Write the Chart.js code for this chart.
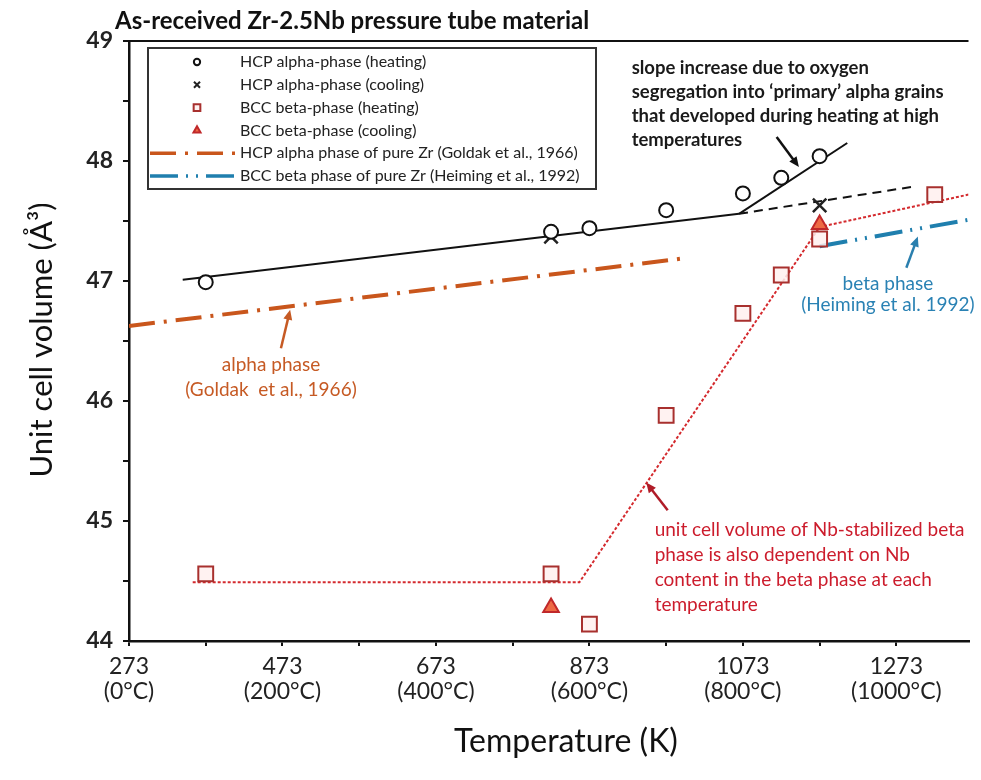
<!DOCTYPE html>
<html lang="en">
<head>
<meta charset="UTF-8">
<title>Unit cell volume vs temperature, Zr-2.5Nb</title>
<script src="https://cdn.jsdelivr.net/npm/chart.js"></script>
<style>
  html, body { margin: 0; padding: 0; background: #fff; }
  #wrap { position: relative; width: 981px; height: 780px; }
</style>
</head>
<body>
<div id="wrap"><canvas id="volumeChart" width="981" height="780"></canvas></div>
<script>
// measured points (temperature in K, unit cell volume in A^3)
const alphaHeatT = [373, 823, 873, 973, 1073, 1123, 1173];
const alphaHeatV = [46.99, 47.41, 47.44, 47.59, 47.73, 47.86, 48.04];
const alphaCoolT = [823, 1173];
const alphaCoolV = [47.37, 47.63];
const betaHeatT = [373, 823, 873, 973, 1073, 1123, 1173, 1323];
const betaHeatV = [44.56, 44.56, 44.14, 45.88, 46.73, 47.05, 47.35, 47.72];
const betaCoolT = [823, 1173];
const betaCoolV = [44.28, 47.47];

// trend lines through the data
const alphaFitT = [343, 1068];
const alphaFitV = [47.01, 47.56];
const alphaSteepT = [1068, 1209];
const alphaSteepV = [47.56, 48.15];
const alphaExtT = [1068, 1299];
const alphaExtV = [47.56, 47.79];
const betaFitT = [356, 860, 1173, 1367];
const betaFitV = [44.49, 44.49, 47.45, 47.72];

// pure Zr reference curves
const goldakT = [273, 998];
const goldakV = [46.625, 47.19];
const heimingT = [1173, 1367];
const heimingV = [47.29, 47.51];

// axis ticks
const xTicks = [273, 373, 473, 573, 673, 773, 873, 973, 1073, 1173, 1273];
const xMajor = [273, 473, 673, 873, 1073, 1273];
const xCelsius = ['(0°C)', '(200°C)', '(400°C)', '(600°C)', '(800°C)', '(1000°C)'];

const FONT = 'Lato, "Open Sans", "DejaVu Sans", sans-serif';
Chart.defaults.font.family = FONT;

const pts = (xs, ys) => xs.map((x, i) => ({ x: x, y: ys[i] }));

const datasets = [
  { label: 'HCP alpha-phase (heating)', data: pts(alphaHeatT, alphaHeatV),
    pointStyle: 'circle', pointRadius: 7, borderColor: '#111', backgroundColor: '#fff', borderWidth: 2 },
  { label: 'HCP alpha-phase (cooling)', data: pts(alphaCoolT, alphaCoolV),
    pointStyle: 'crossRot', pointRadius: 9.5, borderColor: '#222', backgroundColor: '#222', borderWidth: 2.5 },
  { label: 'BCC beta-phase (cooling)', data: pts(betaCoolT, betaCoolV),
    pointStyle: 'triangle', pointRadius: 9, borderColor: '#c0282a', backgroundColor: '#ee6a44', borderWidth: 2 },
  { label: 'BCC beta-phase (heating)', data: pts(betaHeatT, betaHeatV),
    pointStyle: 'rect', pointRadius: 10.5, borderColor: '#a8302e', backgroundColor: 'rgba(255,240,238,0.85)', borderWidth: 2 },
  { label: 'alpha fit', data: pts(alphaFitT, alphaFitV), showLine: true, pointRadius: 0,
    borderColor: '#111', borderWidth: 2 },
  { label: 'alpha fit high T', data: pts(alphaSteepT, alphaSteepV), showLine: true, pointRadius: 0,
    borderColor: '#111', borderWidth: 2 },
  { label: 'alpha fit extended', data: pts(alphaExtT, alphaExtV), showLine: true, pointRadius: 0,
    borderColor: '#111', borderWidth: 2, borderDash: [9, 6] },
  { label: 'beta fit', data: pts(betaFitT, betaFitV), showLine: true, pointRadius: 0,
    borderColor: '#d42a2e', borderWidth: 2, borderDash: [3, 2] },
  { label: 'HCP alpha phase of pure Zr (Goldak et al., 1966)', data: pts(goldakT, goldakV), showLine: true, pointRadius: 0,
    borderColor: '#c9561c', borderWidth: 4, borderDash: [26, 9, 3, 9] },
  { label: 'BCC beta phase of pure Zr (Heiming et al., 1992)', data: pts(heimingT, heimingV), showLine: true, pointRadius: 0,
    borderColor: '#1f7fae', borderWidth: 4, borderDash: [28, 8, 2, 8, 2, 8] }
];

// legend rows: dataset index in the order shown
const legendRows = [0, 1, 3, 2, 8, 9];

// callouts, placed in data coordinates
const notes = [
  { lines: ['slope increase due to oxygen', 'segregation into \u2018primary\u2019 alpha grains',
            'that developed during heating at high', 'temperatures'],
    t: 928, v: 48.775, align: 'left', color: '#1a1a1a', size: 18.5, weight: 'bold', lh: 24 },
  { lines: ['beta phase', '(Heiming et al. 1992)'],
    t: 1262, v: 46.98, align: 'center', color: '#2a82b4', size: 19, weight: 'normal', lh: 21 },
  { lines: ['alpha phase', '(Goldak  et al., 1966)'],
    t: 458, v: 46.30, align: 'center', color: '#c65a24', size: 19, weight: 'normal', lh: 25 },
  { lines: ['unit cell volume of Nb-stabilized beta', 'phase is also dependent on Nb',
            'content in the beta phase at each', 'temperature'],
    t: 958, v: 44.925, align: 'left', color: '#cc1c2c', size: 19, weight: 'normal', lh: 25 }
];
const arrows = [
  { from: [1117, 48.2], to: [1146, 47.95], color: '#111' },
  { from: [1286, 47.11], to: [1301, 47.37], color: '#2a7fae' },
  { from: [471, 46.44], to: [483, 46.76], color: '#c65a24' },
  { from: [975, 45.09], to: [947, 45.32], color: '#b01c28' }
];

function arrow(ctx, x1, y1, x2, y2, color) {
  const a = Math.atan2(y2 - y1, x2 - x1), h = 11;
  ctx.strokeStyle = color; ctx.fillStyle = color; ctx.lineWidth = 2.5;
  ctx.beginPath();
  ctx.moveTo(x1, y1);
  ctx.lineTo(x2 - Math.cos(a) * h * 0.8, y2 - Math.sin(a) * h * 0.8);
  ctx.stroke();
  ctx.beginPath();
  ctx.moveTo(x2, y2);
  ctx.lineTo(x2 - h * Math.cos(a - 0.42), y2 - h * Math.sin(a - 0.42));
  ctx.lineTo(x2 - h * Math.cos(a + 0.42), y2 - h * Math.sin(a + 0.42));
  ctx.closePath();
  ctx.fill();
}

const extras = {
  id: 'extras',
  afterDraw(chart) {
    const { ctx, chartArea: ca, scales: { x, y } } = chart;
    ctx.save();

    // top frame line
    ctx.strokeStyle = '#111'; ctx.lineWidth = 2;
    ctx.beginPath(); ctx.moveTo(ca.left, ca.top); ctx.lineTo(ca.right, ca.top); ctx.stroke();

    // title and axis titles
    ctx.fillStyle = '#111';
    ctx.textBaseline = 'middle';
    ctx.textAlign = 'left';
    ctx.font = 'bold 24px ' + FONT;
    ctx.fillText('As-received Zr-2.5Nb pressure tube material', 115, 21);
    ctx.textAlign = 'center';
    ctx.font = '32px ' + FONT;
    ctx.fillText('Temperature (K)', 566, 742);
    ctx.save();
    ctx.translate(42, 340);
    ctx.rotate(-Math.PI / 2);
    ctx.font = '31px ' + FONT;
    ctx.fillText('Unit cell volume (\u00c5\u00b3)', 0, 0);
    ctx.restore();

    // callouts
    notes.forEach(n => {
      ctx.fillStyle = n.color;
      ctx.textAlign = n.align;
      ctx.font = n.weight + ' ' + n.size + 'px ' + FONT;
      const px = x.getPixelForValue(n.t), py = y.getPixelForValue(n.v);
      n.lines.forEach((s, i) => ctx.fillText(s, px, py + i * n.lh));
    });
    arrows.forEach(a => arrow(ctx,
      x.getPixelForValue(a.from[0]), y.getPixelForValue(a.from[1]),
      x.getPixelForValue(a.to[0]), y.getPixelForValue(a.to[1]), a.color));

    // legend box
    const lx = ca.left + 19, ly = ca.top + 7, lw = 448, lh = 141;
    ctx.fillStyle = '#fff';
    ctx.fillRect(lx, ly, lw, lh);
    ctx.strokeStyle = '#333'; ctx.lineWidth = 2; ctx.setLineDash([]);
    ctx.strokeRect(lx, ly, lw, lh);
    ctx.font = '16px ' + FONT;
    ctx.textAlign = 'left';
    legendRows.forEach((di, r) => {
      const ds = chart.data.datasets[di];
      const ry = ly + 14 + r * 22.8;
      if (ds.showLine) {
        ctx.strokeStyle = ds.borderColor; ctx.lineWidth = 3.5;
        ctx.setLineDash(ds.borderDash || []);
        ctx.beginPath(); ctx.moveTo(lx + 2, ry); ctx.lineTo(lx + 89, ry); ctx.stroke();
        ctx.setLineDash([]);
      } else {
        ctx.strokeStyle = ds.borderColor; ctx.fillStyle = ds.backgroundColor;
        ctx.lineWidth = 2;
        Chart.helpers.drawPoint(ctx, { pointStyle: ds.pointStyle, radius: ds.pointRadius * 0.45,
          rotation: 0, borderWidth: 2 }, lx + 49, ry);
      }
      ctx.fillStyle = '#222';
      ctx.fillText(ds.label, lx + 92, ry, lw - 96);
    });
    ctx.restore();
  }
};

new Chart(document.getElementById('volumeChart'), {
  type: 'scatter',
  data: { datasets: datasets },
  options: {
    responsive: false,
    animation: false,
    layout: { padding: { top: 41, right: 0, left: 0, bottom: 0 } },
    plugins: { legend: { display: false }, tooltip: { enabled: false } },
    scales: {
      x: {
        type: 'linear', min: 273, max: 1367,
        afterBuildTicks: s => { s.ticks = xTicks.map(v => ({ value: v })); },
        afterFit: s => { s.height = 139; },
        grid: { drawOnChartArea: false, drawTicks: true, tickLength: 5, color: '#111', lineWidth: 2 },
        border: { display: true, color: '#111', width: 2.5 },
        ticks: {
          autoSkip: false, maxRotation: 0, padding: 8, color: '#222',
          font: { size: 23, lineHeight: 1.1 },
          callback: v => {
            const i = xMajor.indexOf(v);
            return i < 0 ? '' : [String(v), xCelsius[i]];
          }
        }
      },
      y: {
        min: 44, max: 49,
        afterFit: s => { s.width = 129; },
        grid: { drawOnChartArea: false, drawTicks: true, tickLength: 6, color: '#111', lineWidth: 2 },
        border: { display: true, color: '#111', width: 2.5 },
        ticks: {
          stepSize: 0.5, padding: 10, color: '#222',
          font: { size: 23, weight: 'bold' },
          callback: v => Number.isInteger(v) ? String(v) : ''
        }
      }
    }
  },
  plugins: [extras]
});
</script>
</body>
</html>
